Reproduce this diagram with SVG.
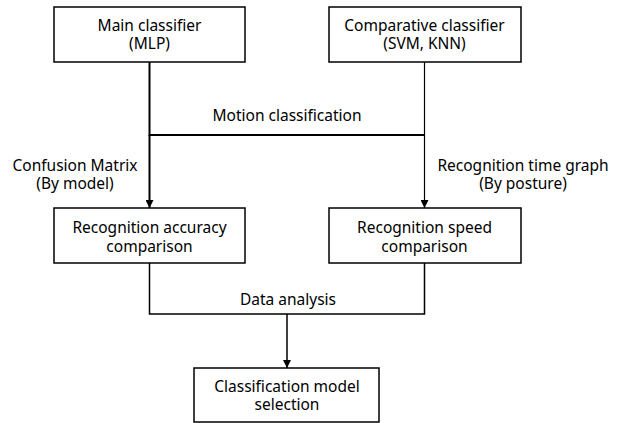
<svg xmlns="http://www.w3.org/2000/svg" width="618" height="423" viewBox="0 0 618 423">
<style>
.box{fill:#fff;stroke:#000;stroke-width:1.5}
text{font-family:"Noto Sans","Open Sans","Liberation Sans",sans-serif;font-size:15.5px;fill:#000;text-anchor:middle}
.c{fill:none;stroke:#000}
</style>
<defs>
<marker id="arr" viewBox="0 0 8 8" refX="8" refY="4" markerWidth="8" markerHeight="8" markerUnits="userSpaceOnUse" orient="auto">
<path d="M0,0 L8,4 L0,8 z" fill="#000"/>
</marker>
</defs>
<rect width="618" height="423" fill="#fff"/>
<g id="connectors">
<path class="c" stroke-width="2" d="M149.5,62 V135 H424.5"/>
<path class="c" stroke-width="1.2" d="M424.5,62 V135"/>
<path class="c" stroke-width="2" d="M149.5,135 V208" marker-end="url(#arr)"/>
<path class="c" stroke-width="1.2" d="M424.5,135 V208" marker-end="url(#arr)"/>
<path class="c" stroke-width="1.5" d="M149.5,263 V314 H424.5 V263"/>
<path class="c" stroke-width="1.5" d="M287,314 V368" marker-end="url(#arr)"/>
<text x="287" y="121">Motion classification</text>
<text x="75" y="171">Confusion Matrix</text>
<text x="75" y="189">(By model)</text>
<text x="523" y="171">Recognition time graph</text>
<text x="523" y="189">(By posture)</text>
<text x="288" y="305">Data analysis</text>
</g>
<g id="main">
<rect class="box" x="54" y="7" width="191" height="55"/>
<text x="149.5" y="31">Main classifier</text>
<text x="149.5" y="49">(MLP)</text>
</g>
<g id="comparative">
<rect class="box" x="329" y="7" width="192" height="55"/>
<text x="424.5" y="31">Comparative classifier</text>
<text x="424.5" y="49">(SVM, KNN)</text>
</g>
<g id="accuracy">
<rect class="box" x="54" y="208" width="191" height="55"/>
<text x="149.5" y="233">Recognition accuracy</text>
<text x="149.5" y="252">comparison</text>
</g>
<g id="speed">
<rect class="box" x="329" y="208" width="192" height="55"/>
<text x="424.5" y="233">Recognition speed</text>
<text x="424.5" y="252">comparison</text>
</g>
<g id="selection">
<rect class="box" x="194" y="368" width="185" height="54"/>
<text x="287" y="392">Classification model</text>
<text x="287" y="410">selection</text>
</g>
</svg>
